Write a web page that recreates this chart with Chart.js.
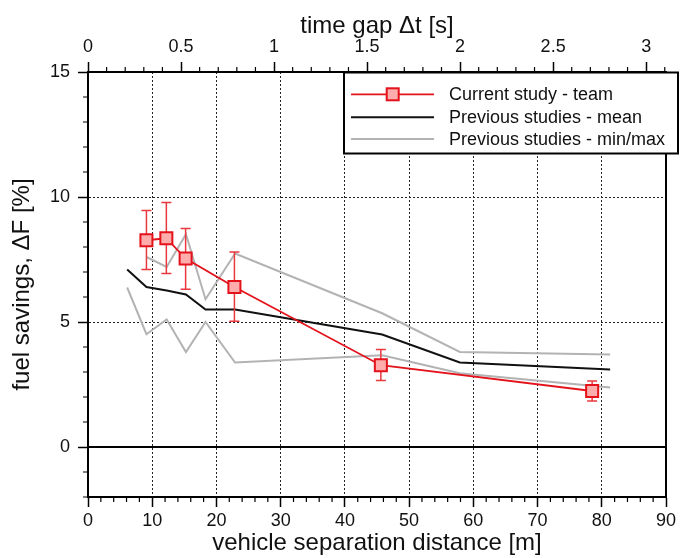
<!DOCTYPE html>
<html>
<head>
<title>Fuel savings vs separation</title>
<script src="https://cdn.jsdelivr.net/npm/chart.js@4"></script>
<style>
  body { margin: 0; background: #fff; }
</style>
</head>
<body>
<canvas id="fuelChart" width="689" height="558"></canvas>
<script>
// previous studies (mean, min, max envelopes)
const prevDistance = [6.1, 9.1, 12.25, 15.25, 18.3, 22.9, 45.8, 57.9, 81.3];
const prevMean = [7.10, 6.40, 6.26, 6.10, 5.50, 5.50, 4.50, 3.38, 3.10];
const prevMax = [null, 7.60, 7.20, 8.51, 5.91, 7.74, 5.35, 3.80, 3.70];
const prevMin = [6.38, 4.51, 5.10, 3.80, 5.00, 3.38, 3.67, 2.95, 2.38];

// current study, team values with error bars
const teamDistance = [9.1, 12.2, 15.2, 22.8, 45.6, 78.5];
const teamSavings = [8.27, 8.35, 7.54, 6.40, 3.27, 2.24];
const teamLow = [7.10, 6.94, 6.31, 5.03, 2.66, 1.84];
const teamHigh = [9.46, 9.78, 8.74, 7.80, 3.90, 2.64];

// axes
const distanceTicks = [0, 10, 20, 30, 40, 50, 60, 70, 80, 90];
const timeTicks = [0, 0.5, 1, 1.5, 2, 2.5, 3];
const savingsTicks = [0, 5, 10, 15];
const speed = 28.97; // m/s, converts distance to time gap

const red = '#e3121b';
const gray = '#b3b3b3';
const fontFamily = 'Arial, "Liberation Sans", sans-serif';

function points(xs, ys) {
  return xs.map((x, i) => ({ x: x, y: ys[i] }));
}

const decorations = {
  id: 'decorations',
  beforeDatasetsDraw(chart) {
    const { ctx, chartArea: a, scales } = chart;
    const y0 = scales.y.getPixelForValue(0);
    ctx.save();
    ctx.strokeStyle = '#000';
    ctx.lineWidth = 2;
    ctx.beginPath();
    ctx.moveTo(a.left, y0);
    ctx.lineTo(a.right, y0);
    ctx.stroke();
    ctx.restore();
  },
  beforeDatasetDraw(chart, args) {
    if (args.index !== 0) return;
    const { ctx, scales } = chart;
    ctx.save();
    ctx.strokeStyle = '#e8393f';
    ctx.lineWidth = 1.5;
    teamDistance.forEach((d, i) => {
      const px = scales.x.getPixelForValue(d);
      const lo = scales.y.getPixelForValue(teamLow[i]);
      const hi = scales.y.getPixelForValue(teamHigh[i]);
      ctx.beginPath();
      ctx.moveTo(px, lo); ctx.lineTo(px, hi);
      ctx.moveTo(px - 5, lo); ctx.lineTo(px + 5, lo);
      ctx.moveTo(px - 5, hi); ctx.lineTo(px + 5, hi);
      ctx.stroke();
    });
    ctx.restore();
  },
  afterDraw(chart) {
    const { ctx, chartArea: a, scales } = chart;
    ctx.save();
    // frame
    ctx.strokeStyle = '#000';
    ctx.lineWidth = 2;
    ctx.strokeRect(a.left, a.top, a.right - a.left, a.bottom - a.top);
    // minor ticks
    ctx.lineWidth = 1.2;
    ctx.beginPath();
    for (let i = 0; i <= 45; i++) {
      if (i % 5 === 0) continue;
      const px = scales.x.getPixelForValue(i * 2);
      ctx.moveTo(px, a.bottom); ctx.lineTo(px, a.bottom + 5);
    }
    for (let i = 0; i <= 31; i++) {
      if (i % 5 === 0) continue;
      const px = scales.x2.getPixelForValue(i / 10);
      if (px > a.right + 0.5) continue;
      ctx.moveTo(px, a.top); ctx.lineTo(px, a.top - 5);
    }
    for (let v = -2; v <= 15; v++) {
      if (v % 5 === 0) continue;
      const py = scales.y.getPixelForValue(v);
      ctx.moveTo(a.left, py); ctx.lineTo(a.left - 5, py);
    }
    ctx.stroke();

    // legend box
    const bx = 344, by = 72.5, bw = 334, bh = 81;
    ctx.fillStyle = '#fff';
    ctx.fillRect(bx, by, bw, bh);
    ctx.lineWidth = 2;
    ctx.strokeStyle = '#000';
    ctx.strokeRect(bx, by, bw, bh);
    const rows = [94.3, 117.3, 139];
    const items = chart.data.datasets.slice(0, 3);
    ctx.font = '18px ' + fontFamily;
    ctx.textBaseline = 'middle';
    items.forEach((ds, i) => {
      const ry = rows[i];
      ctx.strokeStyle = ds.borderColor;
      ctx.lineWidth = ds.borderWidth;
      ctx.beginPath();
      ctx.moveTo(351, ry); ctx.lineTo(434, ry);
      ctx.stroke();
      if (ds.pointRadius > 0) {
        ctx.fillStyle = ds.pointBackgroundColor;
        ctx.strokeStyle = ds.pointBorderColor;
        ctx.lineWidth = ds.pointBorderWidth;
        ctx.fillRect(392.7 - 6, ry - 6, 12, 12);
        ctx.strokeRect(392.7 - 6, ry - 6, 12, 12);
      }
      ctx.fillStyle = '#111';
      ctx.fillText(ds.label, 449, ry + 1);
    });
    ctx.restore();
  }
};

const ctx = document.getElementById('fuelChart').getContext('2d');
new Chart(ctx, {
  type: 'scatter',
  data: {
    datasets: [
      {
        label: 'Current study - team',
        data: points(teamDistance, teamSavings),
        showLine: true,
        borderColor: red,
        borderWidth: 1.8,
        pointStyle: 'rect',
        pointRadius: 8.5,
        pointBackgroundColor: '#ffacac',
        pointBorderColor: red,
        pointBorderWidth: 2,
        pointHoverRadius: 8.5
      },
      {
        label: 'Previous studies - mean',
        data: points(prevDistance, prevMean),
        showLine: true,
        borderColor: '#111',
        borderWidth: 2,
        pointRadius: 0
      },
      {
        label: 'Previous studies - min/max',
        data: points(prevDistance, prevMax),
        showLine: true,
        borderColor: gray,
        borderWidth: 2,
        pointRadius: 0
      },
      {
        label: 'Previous studies - min/max',
        data: points(prevDistance, prevMin),
        showLine: true,
        borderColor: gray,
        borderWidth: 2,
        pointRadius: 0
      }
    ]
  },
  options: {
    responsive: false,
    animation: false,
    devicePixelRatio: 1,
    layout: { padding: { left: 0, right: 23, top: 0, bottom: 0 } },
    plugins: {
      legend: { display: false },
      tooltip: { enabled: false }
    },
    scales: {
      x: {
        type: 'linear',
        position: 'bottom',
        min: 0,
        max: 90,
        afterBuildTicks: s => { s.ticks = distanceTicks.map(v => ({ value: v })); },
        afterFit: s => { s.height = 61; },
        ticks: {
          color: '#111',
          font: { size: 18, family: fontFamily },
          padding: 3,
          maxRotation: 0,
          autoSkip: false
        },
        grid: {
          color: c => (c.tick && c.tick.value > 0 && c.tick.value < 90) ? '#222' : 'rgba(0,0,0,0)',
          lineWidth: 1,
          tickLength: 10,
          tickColor: '#000',
          tickWidth: 1.5
        },
        border: { color: '#000', width: 2, dash: [2, 2] },
        title: {
          display: true,
          text: 'vehicle separation distance [m]',
          color: '#111',
          font: { size: 24, family: fontFamily },
          padding: { top: 0, bottom: 0 }
        }
      },
      x2: {
        type: 'linear',
        position: 'top',
        min: 0,
        max: 90 / speed,
        afterBuildTicks: s => { s.ticks = timeTicks.map(v => ({ value: v })); },
        afterFit: s => { s.height = 72; },
        ticks: {
          color: '#111',
          font: { size: 18, family: fontFamily },
          padding: 4,
          maxRotation: 0,
          autoSkip: false,
          callback: v => String(v)
        },
        grid: {
          drawOnChartArea: false,
          tickLength: 10,
          tickColor: '#000',
          tickWidth: 1.5
        },
        border: { color: '#000', width: 2 },
        title: {
          display: true,
          text: 'time gap \u0394t [s]',
          color: '#111',
          font: { size: 24, family: fontFamily },
          padding: { top: 12, bottom: 0 }
        }
      },
      y: {
        type: 'linear',
        position: 'left',
        min: -2,
        max: 15,
        afterBuildTicks: s => { s.ticks = savingsTicks.map(v => ({ value: v })); },
        afterFit: s => { s.width = 88; },
        ticks: {
          color: '#111',
          font: { size: 18, family: fontFamily },
          padding: 8
        },
        grid: {
          color: c => (c.tick && (c.tick.value === 5 || c.tick.value === 10)) ? '#222' : 'rgba(0,0,0,0)',
          lineWidth: 1,
          tickLength: 10,
          tickColor: '#000',
          tickWidth: 1.5
        },
        border: { color: '#000', width: 2, dash: [2, 2] },
        title: {
          display: true,
          text: 'fuel savings, \u0394F [%]',
          color: '#111',
          font: { size: 24, family: fontFamily },
          padding: { top: 8, bottom: 0 }
        }
      }
    }
  },
  plugins: [decorations]
});
</script>
</body>
</html>
